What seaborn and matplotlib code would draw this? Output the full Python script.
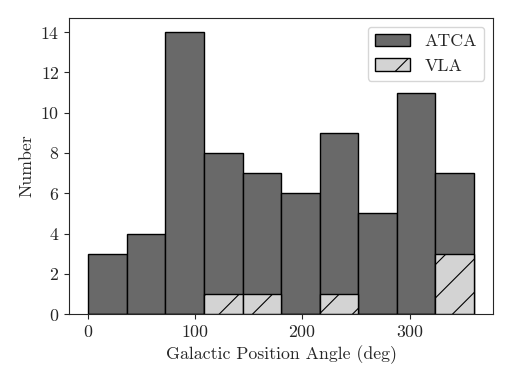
import numpy as np
import pandas as pd
import matplotlib
matplotlib.use("Agg")
import matplotlib.pyplot as plt
import seaborn as sns

# histogram bins (deg) and counts
bin_edges = [0, 36, 72, 108, 144, 180, 216, 252, 288, 324, 360]
atca_counts = [3, 4, 14, 8, 7, 6, 9, 5, 11, 7]
vla_counts = [0, 0, 0, 1, 1, 0, 1, 0, 0, 3]

sns.set_style("ticks")
plt.rcParams['font.family'] = ['cmr10', 'DejaVu Serif']
plt.rcParams['mathtext.fontset'] = 'cm'
plt.rcParams['axes.formatter.use_mathtext'] = True
plt.rcParams['font.size'] = 12.8
plt.rcParams['hatch.linewidth'] = 0.8

centers = (np.array(bin_edges[:-1]) + np.array(bin_edges[1:])) / 2
df = pd.DataFrame({"angle": centers, "ATCA": atca_counts, "VLA": vla_counts})

fig = plt.figure(figsize=(5.12, 3.84), dpi=100)
ax = fig.add_axes([0.135, 0.182, 0.828, 0.771])

sns.histplot(data=df, x="angle", weights="ATCA", bins=bin_edges, ax=ax,
             color="dimgray", edgecolor="black", linewidth=1, alpha=1, label="ATCA")
sns.histplot(data=df, x="angle", weights="VLA", bins=bin_edges, ax=ax,
             color="lightgray", edgecolor="black", linewidth=1, alpha=1,
             hatch="/", label="VLA")

ax.set_xlabel("Galactic Position Angle (deg)")
ax.set_ylabel("Number")
ax.set_yticks(range(0, 15, 2))
ax.set_xticks([0, 100, 200, 300])
ax.legend(loc="upper right", fontsize=12.8)

fig.savefig("out.png", dpi=100)
